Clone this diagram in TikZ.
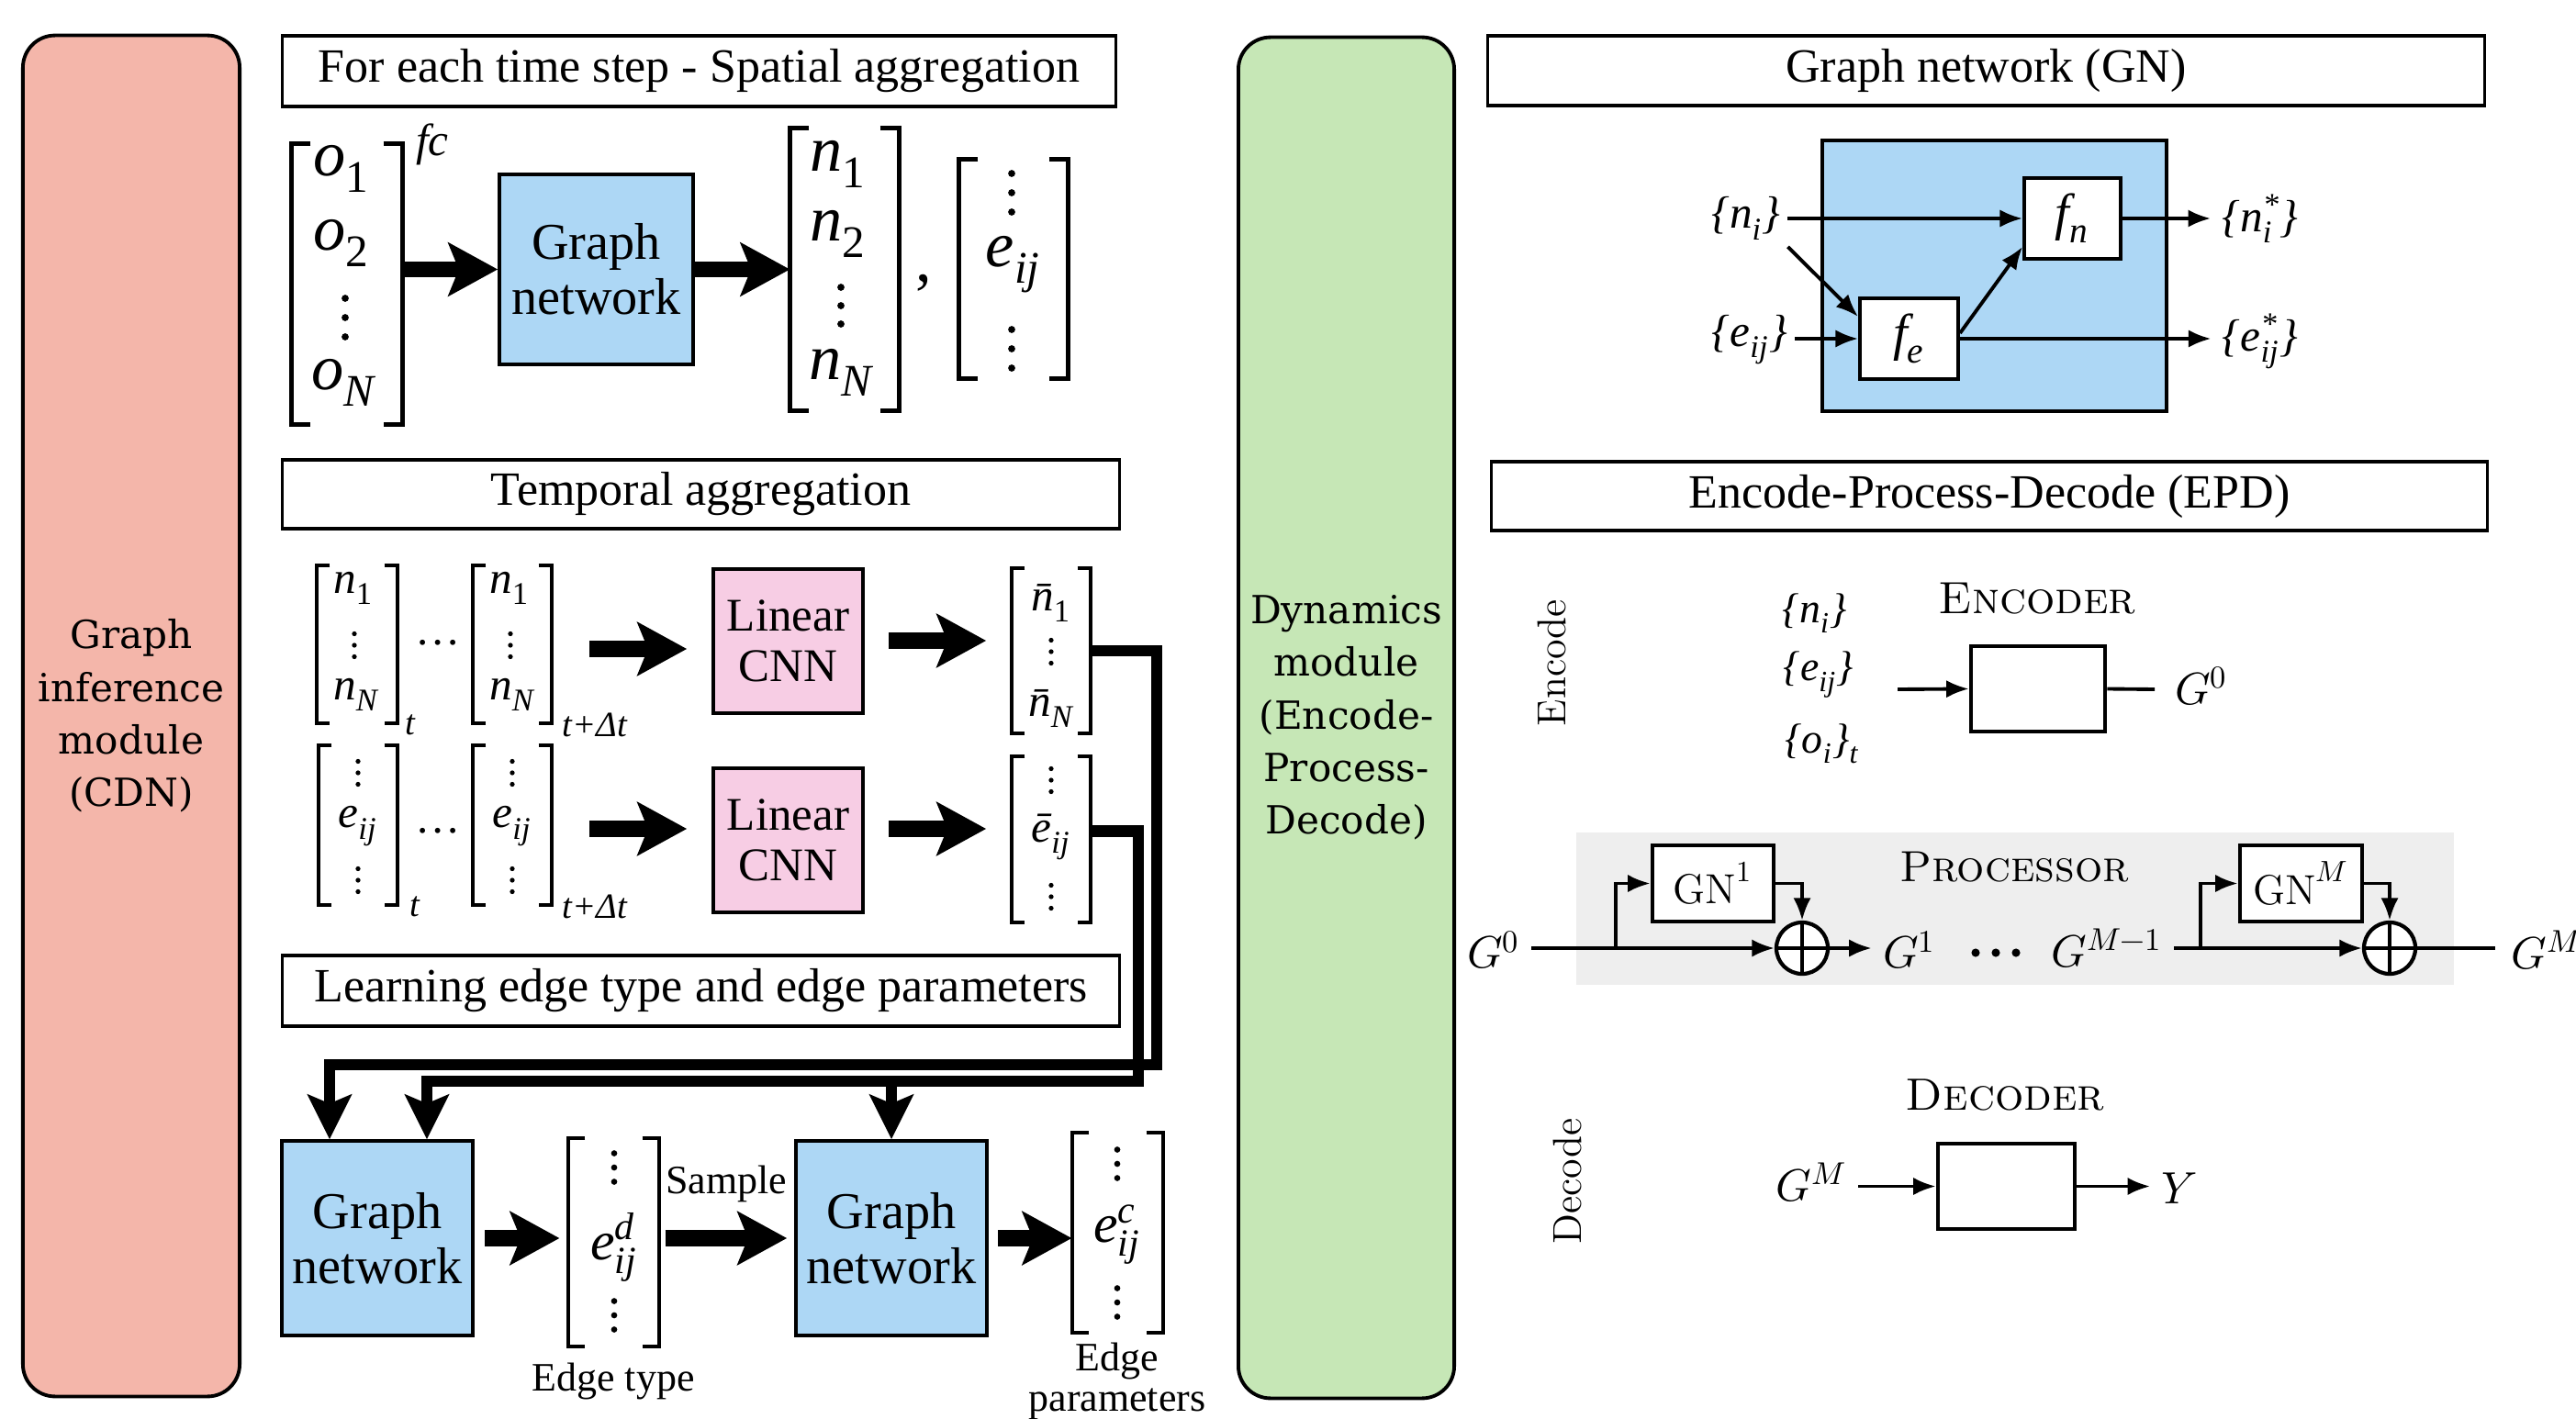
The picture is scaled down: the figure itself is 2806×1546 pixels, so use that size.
\documentclass[tikz,border=0pt]{standalone}
\usepackage{fontspec}
\usepackage{unicode-math}
\newfontfamily\tms{Liberation Serif}
\newfontfamily\djs{DejaVu Serif}
\usetikzlibrary{arrows.meta,calc}
\definecolor{cdnred}{RGB}{244,182,170}
\definecolor{dyngreen}{RGB}{198,231,182}
\definecolor{gnblue}{RGB}{173,215,245}
\definecolor{cnnpink}{RGB}{247,205,228}
\definecolor{procgray}{RGB}{238,238,238}
\newcommand{\fs}[2]{\fontsize{#1}{#2}\selectfont}
\newcommand{\ti}[1]{{\tms\itshape #1}}
\newcommand{\tsb}[2]{{\tms\itshape #1\textsubscript{#2}}}
% vertical dots: x, y, radius (pt), spacing
\newcommand{\vdt}[4]{\foreach \k in {-1,0,1} {\fill (#1,{#2+\k*#4}) circle[radius=#3pt];}}
\newcommand{\brk}[3]{%
  \draw[#3] ($(#1.north west)+(#2,0)$) -- (#1.north west) -- (#1.south west) -- ++(#2,0);
  \draw[#3] ($(#1.north east)+(-#2,0)$) -- (#1.north east) -- (#1.south east) -- ++(-#2,0);}
\begin{document}
\begin{tikzpicture}[x=0.01cm,y=-0.01cm,
  modbox/.style={draw, line width=1.1pt, rounded corners=0.35cm, align=center, inner sep=0pt},
  titlebox/.style={draw, line width=1pt, inner sep=0pt, font=\tms\fs{14.8}{17}},
  gnbox/.style={draw, line width=1.1pt, fill=gnblue, align=center, inner sep=0pt, font=\tms\fs{16}{17}},
  cnnbox/.style={draw, line width=1.1pt, fill=cnnpink, align=center, inner sep=0pt, font=\tms\fs{14.5}{15.5}},
  vec/.style={inner sep=0pt},
  brkA/.style={line width=1.4pt},
  brkB/.style={line width=1.1pt},
  fat/.style={line width=5pt, -{Stealth[length=15.5pt,width=17pt,inset=3.5pt,line width=0pt]}},
  route/.style={line width=3.5pt, -{Stealth[length=14pt,width=14pt,inset=3pt,line width=0pt]}},
  thinarr/.style={line width=1.1pt, -{Latex[length=7pt,width=5.5pt]}},
  thinline/.style={line width=1.1pt},
  fbox/.style={draw, line width=1.1pt, fill=white, inner sep=0pt},
  plainbox/.style={draw, line width=1.3pt, fill=white, inner sep=0pt},
  oplus/.style={circle, draw, line width=1.2pt, minimum size=0.56cm, inner sep=0pt, fill=white,
    path picture={\draw[line width=1.1pt] (path picture bounding box.north) -- (path picture bounding box.south)
      (path picture bounding box.west) -- (path picture bounding box.east);}},
  ent/.style={inner sep=0pt},
]
\useasboundingbox (0,0) rectangle (2806,1546);

% ---------------- modules
\node[modbox, fill=cdnred, minimum width=2.36cm, minimum height=14.82cm, font=\djs\fs{12}{16.3}] (cdn) at (143,780) {Graph\\inference\\module\\(CDN)};
\node[modbox, fill=dyngreen, minimum width=2.35cm, minimum height=14.82cm, font=\djs\fs{12}{16.3}] (dyn) at (1466.5,782) {Dynamics\\module\\(Encode-\\Process-\\Decode)};

% ---------------- titles
\node[titlebox, minimum width=9.07cm, minimum height=0.77cm] (t1) at (761.5,77.5) {For each time step - Spatial aggregation};
\node[titlebox, minimum width=9.11cm, minimum height=0.75cm] (t2) at (763.5,538.5) {Temporal aggregation};
\node[titlebox, minimum width=9.11cm, minimum height=0.77cm] (t3) at (763.5,1079.5) {Learning edge type and edge parameters};
\node[titlebox, minimum width=10.85cm, minimum height=0.76cm] (t4) at (2163.5,77) {Graph network (GN)};
\node[titlebox, minimum width=10.84cm, minimum height=0.75cm] (t5) at (2167,540.5) {Encode-Process-Decode (EPD)};

% ---------------- spatial aggregation
\node[vec, minimum width=1.2cm, minimum height=3.05cm] (vo) at (378,309.5) {};
\brk{vo}{21}{brkA}
\node[ent, font=\fs{20}{20}] (vo1) at (372,184) {\tsb{o}{\textup{1}}};
\node[ent, font=\fs{20}{20}] (vo2) at (372,265) {\tsb{o}{\textup{2}}};
\vdt{376}{346}{1.1}{21}
\node[ent, font=\fs{20}{20}] (vo4) at (374,417) {\tsb{o}{N}};
\node[ent, font=\fs{14}{14}] (fc) at (471,157) {\ti{fc}};

\node[gnbox, minimum width=2.11cm, minimum height=2.07cm] (gn1) at (649.5,293.5) {Graph\\network};

\node[vec, minimum width=1.18cm, minimum height=3.07cm] (vn) at (920,293.5) {};
\brk{vn}{21}{brkA}
\node[ent, font=\fs{20}{20}] (vn1) at (913,179) {\tsb{n}{\textup{1}}};
\node[ent, font=\fs{20}{20}] (vn2) at (913,255) {\tsb{n}{\textup{2}}};
\vdt{916}{333}{1.1}{20}
\node[ent, font=\fs{20}{20}] (vn4) at (916,406) {\tsb{n}{N}};
\node[ent, font=\tms\fs{20}{20}] (comma) at (1006,308) {,};

\node[vec, minimum width=1.18cm, minimum height=2.38cm] (ve) at (1104,293) {};
\brk{ve}{21}{brkA}
\vdt{1102}{210}{1.1}{21}
\node[ent, font=\fs{20}{20}] (ve2) at (1104,288) {\tsb{e}{ij}};
\vdt{1102}{380}{1.1}{21}

\draw[fat] (vo.east |- gn1.west) -- (gn1.west);
\draw[fat] (gn1.east) -- (vn.west |- gn1.east);

% ---------------- temporal aggregation
\node[vec, minimum width=0.86cm, minimum height=1.70cm] (vt1) at (389,702) {};
\brk{vt1}{14}{brkB}
\node[ent, font=\fs{14}{14}] (vt1a) at (385,641) {\tsb{n}{\textup{1}}};
\vdt{386}{703}{0.75}{12.5}
\node[ent, font=\fs{14}{14}] (vt1c) at (388,757) {\tsb{n}{N}};
\node[ent, font=\fs{11}{11}] (st1) at (447,790) {\ti{t}};
\node[ent, font=\tms\fs{14}{14}] (dt1) at (477,700) {\ldots};
\node[vec, minimum width=0.84cm, minimum height=1.70cm] (vt2) at (558,702) {};
\brk{vt2}{14}{brkB}
\node[ent, font=\fs{14}{14}] (vt2a) at (555,641) {\tsb{n}{\textup{1}}};
\vdt{556}{703}{0.75}{12.5}
\node[ent, font=\fs{14}{14}] (vt2c) at (558,757) {\tsb{n}{N}};
\node[ent, font=\fs{11}{11}] (st2) at (648,790) {\ti{t+Δt}};
\node[cnnbox, minimum width=1.63cm, minimum height=1.57cm] (cnn1) at (858.5,698.5) {Linear\\CNN};
\node[vec, minimum width=0.84cm, minimum height=1.78cm] (vnb) at (1145,709) {};
\brk{vnb}{14}{brkB}
\node[ent, font=\fs{14}{14}] (vnb1) at (1145,657) {\tsb{\=n}{\textup{1}}};
\vdt{1145}{710}{0.75}{12.5}
\node[ent, font=\fs{14}{14}] (vnb3) at (1145,772) {\tsb{\=n}{N}};
\coordinate (a1s) at (642,707); \coordinate (a1e) at (748,707);
\coordinate (a2s) at (968,698); \coordinate (a2e) at (1074,698);
\draw[fat] (a1s) -- (a1e);
\draw[fat] (a2s) -- (a2e);

\node[vec, minimum width=0.84cm, minimum height=1.72cm] (ve1b) at (390,899) {};
\brk{ve1b}{14}{brkB}
\vdt{390}{842}{0.75}{12.5}
\node[ent, font=\fs{14}{14}] (ve1b2) at (390,900) {\tsb{e}{ij}};
\vdt{390}{959}{0.75}{12.5}
\node[ent, font=\fs{11}{11}] (st3) at (452,988) {\ti{t}};
\node[ent, font=\tms\fs{14}{14}] (dt2) at (477,905) {\ldots};
\node[vec, minimum width=0.84cm, minimum height=1.72cm] (ve2b) at (558,899) {};
\brk{ve2b}{14}{brkB}
\vdt{558}{842}{0.75}{12.5}
\node[ent, font=\fs{14}{14}] (ve2b2) at (558,900) {\tsb{e}{ij}};
\vdt{558}{959}{0.75}{12.5}
\node[ent, font=\fs{11}{11}] (st4) at (648,988) {\ti{t+Δt}};
\node[cnnbox, minimum width=1.63cm, minimum height=1.57cm] (cnn2) at (858.5,915.5) {Linear\\CNN};
\node[vec, minimum width=0.84cm, minimum height=1.79cm] (veb) at (1145,914.5) {};
\brk{veb}{14}{brkB}
\vdt{1145}{850}{0.75}{12.5}
\node[ent, font=\fs{14}{14}] (veb2) at (1145,912) {\tsb{\=e}{ij}};
\vdt{1145}{977}{0.75}{12.5}
\coordinate (a3s) at (642,903); \coordinate (a3e) at (748,903);
\coordinate (a4s) at (968,903); \coordinate (a4e) at (1074,903);
\draw[fat] (a3s) -- (a3e);
\draw[fat] (a4s) -- (a4e);

% ---------------- learning edge type
\node[gnbox, minimum width=2.08cm, minimum height=2.12cm] (gnb1) at (411,1349) {Graph\\network};
\node[gnbox, minimum width=2.08cm, minimum height=2.12cm] (gnb2) at (971,1349) {Graph\\network};
\node[vec, minimum width=0.97cm, minimum height=2.25cm] (ved) at (668.5,1353.5) {};
\brk{ved}{18}{brkB}
\vdt{669}{1272}{0.95}{15.5}
\node[ent, font=\fs{17}{17}] (ved2) at (669,1359) {\ti{e\rlap{\textsuperscript{d}}\textsubscript{ij}}};
\vdt{669}{1433}{0.95}{15.5}
\node[ent, font=\tms\fs{12.5}{13}] (etype) at (668,1505) {Edge type};
\node[vec, minimum width=0.97cm, minimum height=2.16cm] (vec) at (1217.5,1343) {};
\brk{vec}{18}{brkB}
\vdt{1217}{1268}{0.95}{15.5}
\node[ent, font=\fs{17}{17}] (vec2) at (1217,1345) {\ti{e\rlap{\textsuperscript{c}}\textsubscript{ij}}};
\vdt{1217}{1419}{0.95}{15.5}
\node[ent, font=\tms\fs{12.5}{13}] (epar1) at (1217,1483) {Edge};
\node[ent, font=\tms\fs{12.5}{13}] (epar2) at (1217,1530) {parameters};
\node[ent, font=\tms\fs{12.5}{13}] (sample) at (791,1290) {Sample};
\draw[fat] ($(gnb1.east)+(11,0)$) -- ($(ved.west |- gnb1.east)+(-10,0)$);
\draw[fat] ($(ved.east |- gnb1.east)+(7,0)$) -- ($(gnb2.west)+(-8,0)$);
\draw[fat] ($(gnb2.east)+(10,0)$) -- ($(vec.west |- gnb2.east)+(-1,0)$);

% routed thick connectors
\coordinate (hlo) at (0,1160); \coordinate (hli) at (0,1178);
\coordinate (vxo) at (1260,0); \coordinate (vxi) at (1240,0);
\coordinate (in1) at ($(gnb1.north)+(-52,0)$);
\coordinate (in2) at ($(gnb1.north)+(54,0)$);
\coordinate (ebo) at ($(veb.east)+(0,-9)$);
\draw[route] (vnb.east) -| (vxo |- hlo) -| (in1);
\draw[route] (ebo) -| (vxi |- hli) -| (in2);
\draw[route] (gnb2.north |- hli) -- (gnb2.north);

% ---------------- graph network panel
\node[gnbox, minimum width=3.75cm, minimum height=2.95cm] (gnp) at (2172.5,300.5) {};
\node[fbox, minimum width=1.05cm, minimum height=0.88cm, font=\fs{16}{16}] (fn) at (2257.5,238) {\tsb{f}{n}};
\node[fbox, minimum width=1.07cm, minimum height=0.88cm, font=\fs{16}{16}] (fe) at (2079.5,369) {\tsb{f}{e}};
\node[font=\fs{14}{14}, inner sep=2pt] (gni) at (1902,238) {\ti{\{n\textsubscript{i}\}}};
\node[font=\fs{14}{14}, inner sep=2pt] (gne) at (1906,370) {\ti{\{e\textsubscript{ij}\}}};
\node[font=\fs{14}{14}] (gns) at (2462,238) {\ti{\{n\rlap{\textsubscript{i}}\textsuperscript{*}\}}};
\node[font=\fs{14}{14}] (ges) at (2462,372) {\ti{\{e\rlap{\textsuperscript{*}}\textsubscript{ij}\}}};
\draw[thinarr] (gni.east) -- (fn.west);
\draw[thinarr] (gni.south east) -- ($(fe.west)+(0,-24)$);
\draw[thinarr] (gne.east |- fe.west) -- (fe.west);
\draw[thinarr] ($(fe.east)+(0,-6)$) -- ($(fn.south west)+(0,-15)$);
\draw[thinarr] (fn.east) -- (gns.west |- fn.east);
\draw[thinarr] (fe.east) -- (ges.west |- fe.east);

% ---------------- EPD panel: encode
\node[font=\fs{12.5}{13}, rotate=90] (enclab) at (1690,722) {Encode};
\node[font=\fs{13}{13}] (epn) at (1977,668) {\ti{\{n\textsubscript{i}\}}};
\node[font=\fs{13}{13}] (epe) at (1981,735) {\ti{\{e\textsubscript{ij}\}}};
\node[font=\fs{13}{13}] (epo) at (1985,810) {\ti{\{o\textsubscript{i}\}\textsubscript{t}}};
\node[font=\fs{14}{14}\scshape] (enc) at (2219,652) {Encoder};
\node[plainbox, minimum width=1.46cm, minimum height=0.93cm] (encb) at (2220,750.5) {};
\node[font=\fs{14}{14}] (g0e) at (2398,748) {$G^{0}$};
\coordinate (encin) at (2067,751);
\coordinate (encout) at (2347,751);
\draw[thinarr] (encin) -- (encb.west);
\draw[thinline] (encb.east) -- (encout);

% processor
\fill[procgray] (1717,907) rectangle (2673,1073);
\node[font=\fs{13.5}{14}\scshape] (proc) at (2194,945) {Processor};
\node[font=\fs{14}{14}] (g0p) at (1627,1035) {$G^{0}$};
\node[oplus] (p1) at (1963,1033) {};
\node[plainbox, minimum width=1.32cm, minimum height=0.83cm, font=\fs{13}{13}] (gnA) at (1866,962.5) {$\mathrm{GN}^{1}$};
\node[font=\fs{14}{14}] (g1) at (2080,1035) {$G^{1}$};
\foreach \k in {-1,0,1} {\fill ({2174+\k*22},1038) circle[radius=1.3pt];}
\node[font=\fs{14}{14}] (gm1) at (2295,1033) {$G^{M-1}$};
\node[oplus] (p2) at (2603,1033) {};
\node[plainbox, minimum width=1.33cm, minimum height=0.83cm, font=\fs{13}{13}] (gnM) at (2506.5,962.5) {$\mathrm{GN}^{M}$};
\node[font=\fs{14}{14}, anchor=west, inner sep=0pt] (gmr) at (2735,1035) {$G^{M}$};
\coordinate (br1) at (1760,1033);
\coordinate (br2) at (2397,1033);
\coordinate (pout) at (2718,1033);
\draw[thinarr] (g0p.east |- p1.west) -- (p1.west);
\draw[thinarr] (br1) |- (gnA.west);
\draw[thinarr] (gnA.east) -| (p1.north);
\draw[thinarr] (p1.east) -- (g1.west |- p1.east);
\draw[thinarr] (gm1.east |- p2.west) -- (p2.west);
\draw[thinarr] (br2) |- (gnM.west);
\draw[thinarr] (gnM.east) -| (p2.north);
\draw[thinline] (p2.east) -- (pout);

% decode
\node[font=\fs{12.5}{13}, rotate=90] (declab) at (1707,1287) {Decode};
\node[font=\fs{14}{14}\scshape] (dec) at (2184,1193) {Decoder};
\node[plainbox, minimum width=1.49cm, minimum height=0.93cm] (decb) at (2185.5,1292.5) {};
\node[font=\fs{14}{14}] (gmd) at (1973,1288) {$G^{M}$};
\node[font=\fs{14}{14}] (yd) at (2374,1295) {$Y$};
\draw[thinarr] (gmd.east |- decb.west) -- (decb.west);
\draw[thinarr] (decb.east) -- (yd.west |- decb.east);
\end{tikzpicture}
\end{document}
